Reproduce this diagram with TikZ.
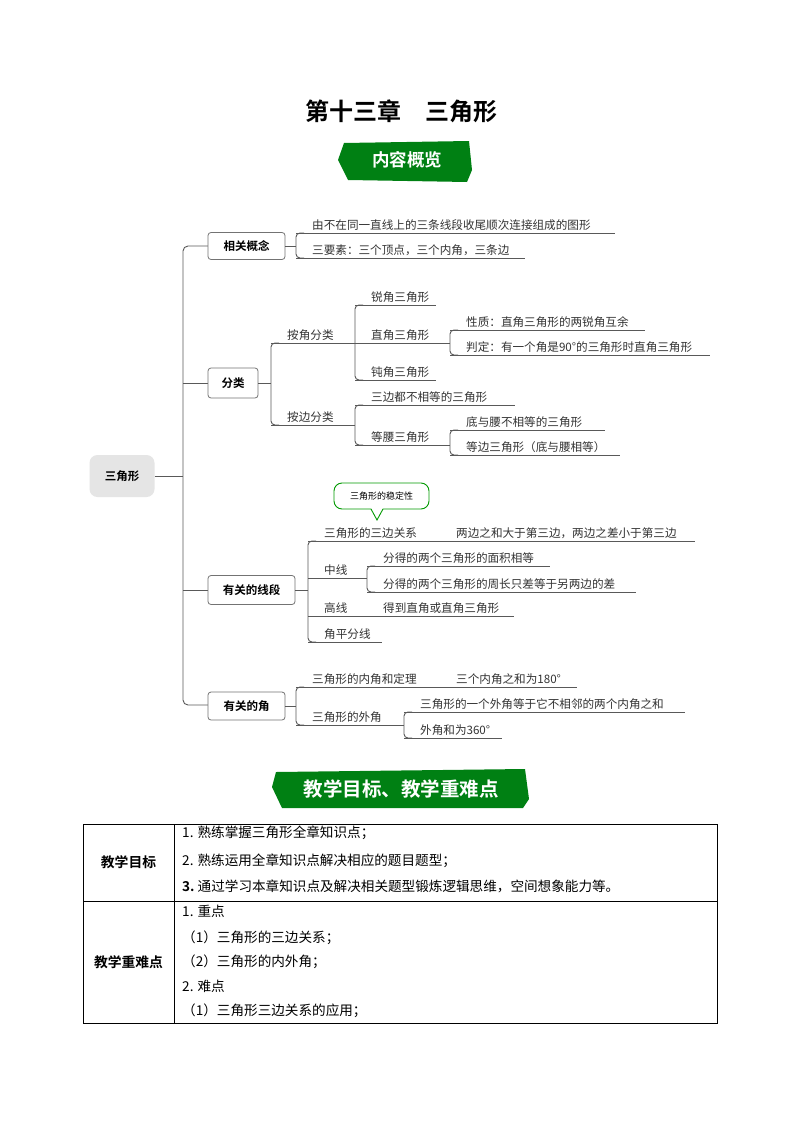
\documentclass[tikz,border=0pt]{standalone}
\usepackage{fontspec}
\setmainfont{Noto Sans CJK SC}
\newfontfamily\cjkb{Noto Sans CJK SC Bold}
\begin{document}
\begin{tikzpicture}[x=1pt,y=-1pt,
  ln/.style={draw=black!65,line width=0.9pt},
  tx/.style={anchor=base west,inner sep=0pt,font=\fontsize{11.6}{13}\selectfont,text=black!80},
  bx/.style={draw=black!55,line width=0.8pt,rounded corners=3pt,fill=white,font=\cjkb\fontsize{11.5}{12}\selectfont,inner sep=0pt,anchor=center},
  tb/.style={anchor=base west,inner sep=0pt,font=\fontsize{13.6}{15}\selectfont},
  tl/.style={anchor=center,inner sep=0pt,font=\cjkb\fontsize{13.8}{15}\selectfont}]
\useasboundingbox (0,0) rectangle (800,1132);
\fill[white] (0,0) rectangle (800,1132);
% title
\node[inner sep=0pt,font=\cjkb\fontsize{24}{26}\selectfont] (title) at (401,111) {第十三章\quad 三角形};
% banners
\fill[green!50!black!85!teal] (344,143) -- (469,141) -- (472,170) -- (467,182) -- (348,180) -- (338,160) -- cycle;
\node[inner sep=0pt,text=white,font=\cjkb\fontsize{17.5}{19}\selectfont] (b1) at (407,160) {内容概览};
\fill[green!50!black!85!teal] (276,772) -- (525,769) -- (529,799) -- (523,808) -- (282,808) -- (272,787) -- cycle;
\node[inner sep=0pt,text=white,font=\cjkb\fontsize{19.5}{21}\selectfont] (b2) at (401,789) {教学目标、教学重难点};
% root
\node[fill=black!10,rounded corners=8pt,minimum width=65pt,minimum height=42pt,font=\cjkb\fontsize{11.5}{12}\selectfont,inner sep=0pt] (root) at (122,476) {三角形};
% trunk
\coordinate (tk) at (183,476);
\draw[ln] (root.east) -- (tk);
\draw[ln,rounded corners=5pt] (208,246) -- (183,246) -- (183,705) -- (208,705);
\draw[ln] (183,383) -- (208,383);
\draw[ln] (183,590) -- (208,590);
% boxes
\node[bx,minimum width=77pt,minimum height=27pt] (gn) at (246.5,246) {相关概念};
\node[bx,minimum width=50pt,minimum height=30pt] (fl) at (233,383) {分类};
\node[bx,minimum width=87pt,minimum height=29pt] (xd) at (251.5,590) {有关的线段};
\node[bx,minimum width=77pt,minimum height=28pt] (jd) at (246.5,706) {有关的角};
% helper
\newcommand\lf[5]{\draw[ln] (#1,#2) -- (#3,#2); \node[tx] at (#1+16,#2-3.5) {#5};}
\newcommand\br[4]{\draw[ln,rounded corners=4pt] (#2,#3) -- (#1,#3) -- (#1,#4) -- (#2,#4);}
% 相关概念
\draw[ln] (gn.east) -- (296,246);
\br{296}{304}{233}{258}
\lf{296}{233}{615}{}{由不在同一直线上的三条线段收尾顺次连接组成的图形}
\lf{296}{258}{525}{}{三要素：三个顶点，三个内角，三条边}
% 分类
\draw[ln] (fl.east) -- (271,383);
\br{271}{279}{343}{425}
\lf{271}{343}{355}{}{按角分类}
\lf{271}{425}{355}{}{按边分类}
\br{355}{363}{305}{380}
\lf{355}{305}{436}{}{锐角三角形}
\lf{355}{343}{436}{}{直角三角形}
\lf{355}{380}{436}{}{钝角三角形}
\br{450}{458}{330}{355}
\draw[ln] (436,343) -- (450,343);
\lf{450}{330}{645}{}{性质：直角三角形的两锐角互余}
\lf{450}{355}{710}{}{判定：有一个角是90°的三角形时直角三角形}
\br{355}{363}{405}{445}
\lf{355}{405}{515}{}{三边都不相等的三角形}
\lf{355}{445}{436}{}{等腰三角形}
\draw[ln] (436,445) -- (450,445);
\br{450}{458}{430}{455}
\lf{450}{430}{605}{}{底与腰不相等的三角形}
\lf{450}{455}{620}{}{等边三角形（底与腰相等）}
% 有关的线段
\draw[ln] (xd.east) -- (308,590);
\br{308}{316}{541}{642}
\lf{308}{541}{695}{}{三角形的三边关系}
\node[tx] at (456,537.5) {两边之和大于第三边，两边之差小于第三边};
\lf{308}{578}{367}{}{中线}
\br{367}{375}{566}{592}
\lf{367}{566}{550}{}{分得的两个三角形的面积相等}
\lf{367}{592}{636}{}{分得的两个三角形的周长只差等于另两边的差}
\lf{308}{616}{514}{}{高线}
\node[tx] at (383,612.5) {得到直角或直角三角形};
\lf{308}{642}{382}{}{角平分线}
% callout
\draw[draw=green!60!black,line width=0.9pt,fill=white,rounded corners=8pt]
  (334,483) rectangle (429,509);
\fill[white] (371,508) -- (383,508) -- (377,520) -- cycle;
\draw[draw=green!60!black,line width=0.9pt] (371,509) -- (377,520) -- (383,509);
\node[inner sep=0pt,font=\fontsize{9}{10}\selectfont] (cl) at (381.5,496) {三角形的稳定性};
% 有关的角
\draw[ln] (jd.east) -- (296,706);
\br{296}{304}{687}{725}
\lf{296}{687}{577}{}{三角形的内角和定理}
\node[tx] at (456,683.5) {三个内角之和为180°};
\lf{296}{725}{404}{}{三角形的外角}
\br{404}{412}{712}{738}
\lf{404}{712}{685}{}{三角形的一个外角等于它不相邻的两个内角之和}
\lf{404}{738}{502}{}{外角和为360°}
% table
\draw[line width=0.8pt] (83,824) rectangle (717,1023);
\draw[line width=0.8pt] (174,824) -- (174,1023);
\draw[line width=0.8pt] (83,901) -- (717,901);
\node[tl] (l1) at (128.5,862) {教学目标};
\node[tl] (l2) at (128.5,962) {教学重难点};
\node[tb] at (182,837) {1. 熟练掌握三角形全章知识点；};
\node[tb] at (182,865) {2. 熟练运用全章知识点解决相应的题目题型；};
\node[tb] at (182,891) {\cjkb 3.\ \normalfont 通过学习本章知识点及解决相关题型锻炼逻辑思维，空间想象能力等。};
\node[tb] at (182,916) {1. 重点};
\node[tb] at (182,942) {（1）三角形的三边关系；};
\node[tb] at (182,966) {（2）三角形的内外角；};
\node[tb] at (182,991) {2. 难点};
\node[tb] at (182,1015) {（1）三角形三边关系的应用；};
\end{tikzpicture}
\end{document}
